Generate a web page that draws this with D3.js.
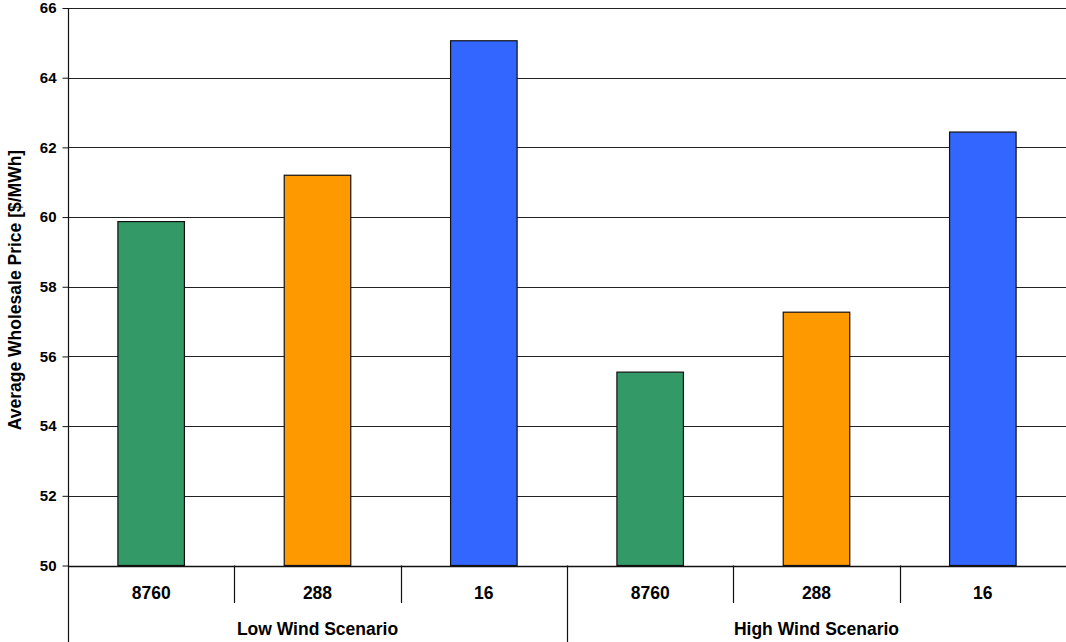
<!DOCTYPE html>
<html>
<head>
<meta charset="utf-8">
<script src="https://cdn.jsdelivr.net/npm/d3@7"></script>
<style>
  html, body { margin: 0; padding: 0; background: #fff; }
  svg { display: block; }
  text { font-family: "Liberation Sans", Arial, sans-serif; font-weight: bold; fill: #000; }
</style>
</head>
<body>
<svg id="chart" width="1066" height="642"></svg>
<script>
// Wholesale price by temporal resolution, grouped by wind scenario
const scenarios = ["Low Wind Scenario", "High Wind Scenario"];
const resolutions = ["8760", "288", "16"];
const lowWind = [59.87, 61.2, 65.06];
const highWind = [55.55, 57.27, 62.44];
const seriesValues = [lowWind, highWind];
const barColors = ["#339966", "#FF9900", "#3366FF"];
const yTicks = [50, 52, 54, 56, 58, 60, 62, 64, 66];
const yTitle = "Average Wholesale Price [$/MWh]";

const svg = d3.select("#chart");
const W = 1066, H = 642;
const mLeft = 68, mRight = 1066, mTop = 8, mBottom = 565.5;

// flat list of bars: one band per (scenario, resolution)
const bars = [];
scenarios.forEach((s, si) => {
  resolutions.forEach((r, ri) => {
    bars.push({ key: si + "-" + r, scenario: s, res: r, ri, value: seriesValues[si][ri] });
  });
});

const x = d3.scaleBand().domain(bars.map(d => d.key)).range([mLeft, mRight]).paddingInner(0).paddingOuter(0);
const y = d3.scaleLinear().domain([50, 66]).range([mBottom, mTop]);

// horizontal gridlines
svg.append("g")
  .selectAll("line")
  .data(yTicks.filter(t => t > 50))
  .join("line")
  .attr("x1", mLeft).attr("x2", mRight)
  .attr("y1", d => Math.round(y(d)) + 0.5).attr("y2", d => Math.round(y(d)) + 0.5)
  .attr("stroke", "#222").attr("stroke-width", 1.2);

// bars
const bw = x.bandwidth() * 0.4;
svg.append("g")
  .selectAll("rect")
  .data(bars)
  .join("rect")
  .attr("x", d => x(d.key) + (x.bandwidth() - bw) / 2)
  .attr("width", bw)
  .attr("y", d => y(d.value))
  .attr("height", d => y(50) - y(d.value))
  .attr("fill", d => barColors[d.ri])
  .attr("stroke", "#111").attr("stroke-width", 1.2);

// y axis
const yAxis = d3.axisLeft(y).tickValues(yTicks).tickSize(6).tickPadding(6).tickFormat(d3.format("d"));
const yg = svg.append("g").attr("transform", `translate(${mLeft + 0.5},0)`).call(yAxis);
yg.select(".domain").remove();
yg.selectAll(".tick line").attr("stroke", "#111");
yg.selectAll(".tick text").style("font-size", "15px").attr("font-family", null);
svg.append("line")
  .attr("x1", mLeft + 0.5).attr("x2", mLeft + 0.5)
  .attr("y1", mTop).attr("y2", H)
  .attr("stroke", "#111").attr("stroke-width", 1.2);

// x axis baseline
svg.append("line")
  .attr("x1", mLeft).attr("x2", mRight)
  .attr("y1", Math.round(mBottom) + 0.5).attr("y2", Math.round(mBottom) + 0.5)
  .attr("stroke", "#111").attr("stroke-width", 1.4);

// category dividers: short between resolutions, long between scenarios
const dividers = bars.slice(1).map(d => ({ xpos: x(d.key), long: d.ri === 0 }));
svg.append("g")
  .selectAll("line")
  .data(dividers)
  .join("line")
  .attr("x1", d => Math.round(d.xpos) + 0.5).attr("x2", d => Math.round(d.xpos) + 0.5)
  .attr("y1", mBottom).attr("y2", d => d.long ? H : 603)
  .attr("stroke", "#111").attr("stroke-width", 1.2);

// resolution labels
svg.append("g")
  .selectAll("text")
  .data(bars)
  .join("text")
  .attr("x", d => x(d.key) + x.bandwidth() / 2)
  .attr("y", 599)
  .attr("text-anchor", "middle")
  .style("font-size", "17.5px")
  .text(d => d.res);

// scenario labels
svg.append("g")
  .selectAll("text")
  .data(scenarios)
  .join("text")
  .attr("x", (d, i) => x(i + "-" + resolutions[1]) + x.bandwidth() / 2)
  .attr("y", 635)
  .attr("text-anchor", "middle")
  .style("font-size", "17.5px")
  .text(d => d);

// y axis title
svg.append("text")
  .attr("transform", `translate(21,290) rotate(-90)`)
  .attr("text-anchor", "middle")
  .style("font-size", "17.5px")
  .text(yTitle);
</script>
</body>
</html>
